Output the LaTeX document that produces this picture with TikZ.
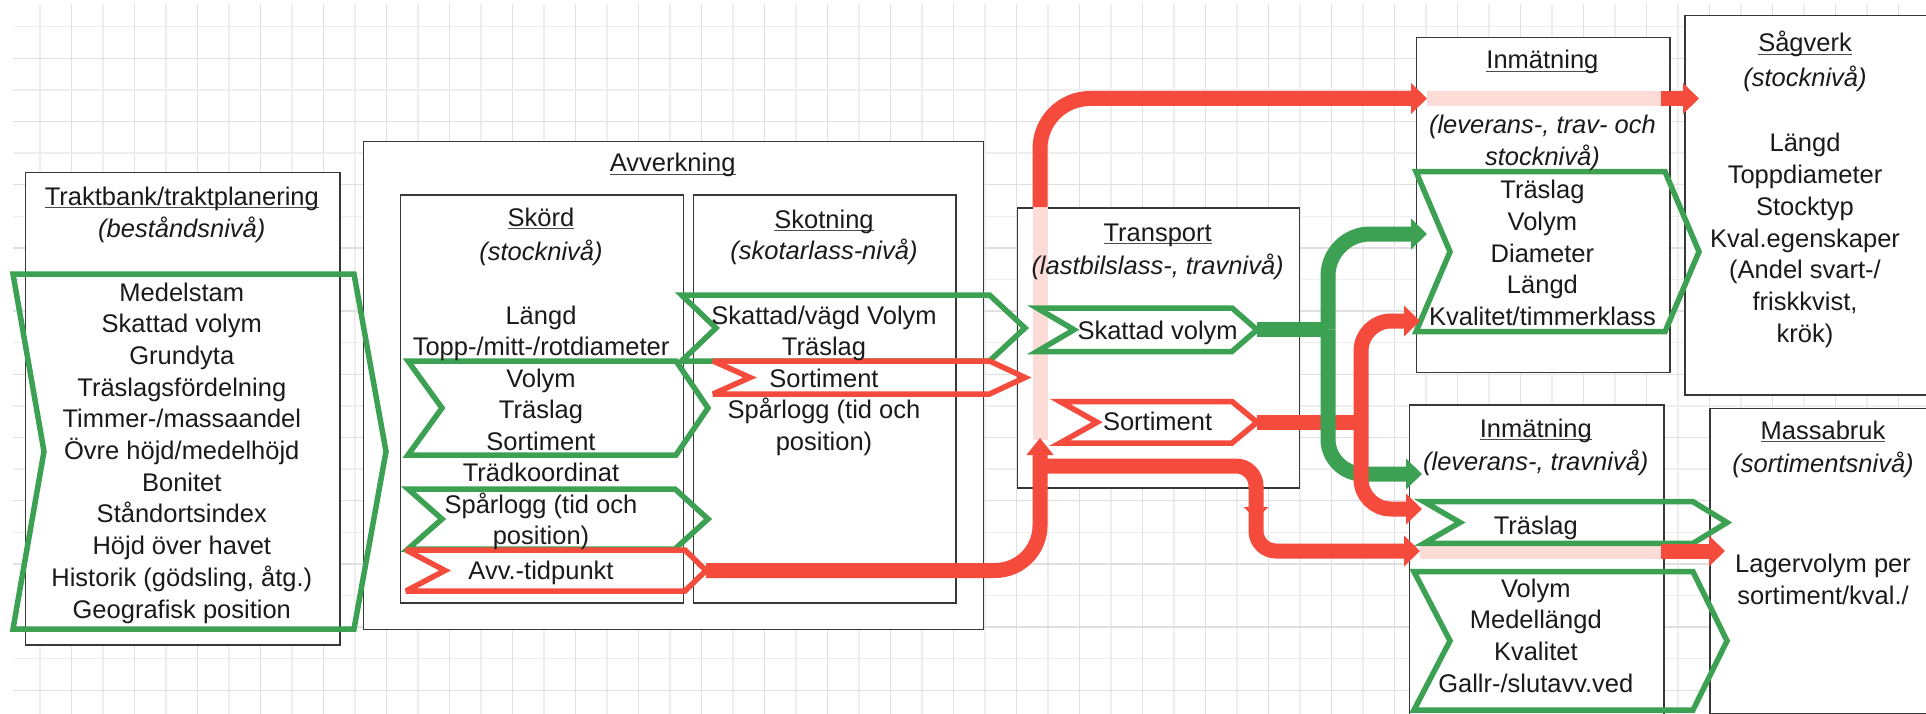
\documentclass[tikz,border=0pt]{standalone}
\usepackage{fontspec}
\setmainfont{Liberation Sans}
\usetikzlibrary{arrows.meta}

\definecolor{flowgreen}{HTML}{3DA153}
\definecolor{flowred}{HTML}{F44B3C}
\definecolor{flowpale}{HTML}{FDDCD8}
\definecolor{gridminor}{HTML}{EEEEEE}
\definecolor{gridmajor}{HTML}{E0E0E0}
\definecolor{ink}{HTML}{1A1A1A}

% underlined stage title, rule just below the baseline
\newsavebox\ttlbox
\newcommand{\utitle}[1]{\sbox\ttlbox{#1}\rlap{\textcolor{black!70}{\rule[-3.2pt]{\wd\ttlbox}{1.6pt}}}\usebox\ttlbox}
% chevron outline: style, left x, notch x, body right x, tip x, top y, bottom y
\newcommand{\flowchev}[7]{\draw[#1] (#2,#6) -- (#4,#6) -- (#5,{(#6+#7)/2}) -- (#4,#7) -- (#2,#7) -- (#3,{(#6+#7)/2}) -- cycle;}

\begin{document}
\begin{tikzpicture}[x=1pt,y=-1pt,
  every node/.style={font=\fontsize{25.5}{31.6}\selectfont, text=ink, inner sep=0pt},
  txt/.style={anchor=base},
  stage/.style={draw=black!78, line width=1.5pt, fill=white, anchor=north west},
  chevg/.style={draw=flowgreen, line width=5.5pt, miter limit=4},
  chevr/.style={draw=flowred, line width=5.5pt, miter limit=4},
  flowg/.style={draw=flowgreen, line width=15pt},
  flowr/.style={draw=flowred, line width=15pt},
  flowp/.style={draw=flowpale, line width=15pt},
  headbig/.style={-{Triangle[length=16pt,width=30pt]}},
  headsmall/.style={-{Triangle[length=17pt,width=26pt]}},
]
\useasboundingbox (0,0) rectangle (1926,714);
\fill[white] (0,0) rectangle (1926,714);

% background grid
\begin{scope}
  \clip (13,4) rectangle (1926,714);
  \foreach \i in {1,...,61} {
    \ifodd\i \def\gc{gridminor}\else\def\gc{gridmajor}\fi
    \draw[\gc, line width=1.3pt] ({8.5+31.5*\i},4) -- ({8.5+31.5*\i},714);
  }
  \foreach \j in {1,...,23} {
    \ifodd\j \def\gc{gridminor}\else\def\gc{gridmajor}\fi
    \draw[\gc, line width=1.3pt] (13,{-4.9+31.6*\j}) -- (1926,{-4.9+31.6*\j});
  }
\end{scope}

% stage boxes
\node[stage, minimum width=314.7pt, minimum height=472pt] (trakt) at (24.6,172) {};
\node[stage, minimum width=619.8pt, minimum height=487.5pt] (avv) at (362.7,141) {};
\node[stage, minimum width=283.2pt, minimum height=407.5pt] (skord) at (399.5,194.5) {};
\node[stage, minimum width=262.3pt, minimum height=407.5pt] (skot) at (692.7,194.5) {};
\node[stage, minimum width=281.8pt, minimum height=280pt] (transp) at (1016.7,207) {};
\node[stage, minimum width=253.2pt, minimum height=335pt] (inmA) at (1415.8,36.7) {};
\node[stage, minimum width=260pt, minimum height=379.2pt] (sag) at (1684.4,14.8) {};
\node[stage, minimum width=254.4pt, minimum height=330pt] (inmB) at (1408.6,404) {};
\node[stage, minimum width=240pt, minimum height=305pt] (massa) at (1709,407.6) {};

% connector end points
\coordinate (avvtip) at (706,570.5);
\coordinate (trin) at (1040,438);
\coordinate (trsplit) at (1040,466);
\coordinate (trtop) at (1040,207);
\coordinate (brk) at (1256,508);
\coordinate (inmAtop) at (1427,98.5);
\coordinate (inmAout) at (1661,98.5);
\coordinate (sagin) at (1699,98.5);
\coordinate (svtip) at (1257,329.5);
\coordinate (gj) at (1328,329.5);
\coordinate (inmAg) at (1427,234);
\coordinate (inmBg) at (1422,474);
\coordinate (sotip) at (1257,422);
\coordinate (rj) at (1361,422);
\coordinate (inmAr) at (1420,321);
\coordinate (inmBr) at (1422,509);
\coordinate (inmBin) at (1420,551);
\coordinate (inmBout) at (1661,551);
\coordinate (massin) at (1725,551);

% pass-through segments
\draw[flowp] (1040,440) -- (trtop);
\draw[flowp] (inmAtop) -- (inmAout);
\draw[flowp] (inmBin) -- (inmBout);

% information chevrons
\flowchev{chevg}{13}{44}{354}{386}{274}{629}
\flowchev{chevg}{408}{442}{676}{708}{361}{455}
\flowchev{chevg}{408}{442}{675}{708}{489}{549}
\flowchev{chevr}{406}{445}{685}{706}{550}{591}
\flowchev{chevg}{681.5}{716}{989.5}{1025}{295}{361}
\flowchev{chevr}{713}{750}{989.5}{1025}{361}{394}
\flowchev{chevg}{1037}{1074}{1232}{1257}{308}{351.5}
\flowchev{chevr}{1060}{1097}{1232}{1257}{401.5}{443}
\flowchev{chevg}{1416}{1450}{1665}{1699}{171.7}{331.7}
\flowchev{chevg}{1424}{1460}{1693}{1727}{501.7}{543.3}
\flowchev{chevg}{1414}{1450}{1693}{1727}{571.7}{710}

% flows
\draw[flowr, headsmall, rounded corners=45pt] (avvtip) -| (trin);
\draw[flowr, headbig, rounded corners=20pt] (trsplit) -| (brk) |- (inmBin);
\fill[flowred] (1243.5,507) -- (1268.5,507) -- (1256,519) -- cycle;
\draw[flowr, headbig, rounded corners=50pt] (trtop) |- (inmAtop);
\draw[flowr, headbig] (inmAout) -- (sagin);
\draw[flowr, headbig] (inmBout) -- (massin);
\draw[flowr] (sotip) -- (rj);
\draw[flowg] (svtip) -- (gj);
\draw[flowg, headbig, rounded corners=42pt] (gj) |- (inmAg);
\draw[flowg, headbig, rounded corners=35pt] (gj) |- (inmBg);
\draw[flowr, headbig, rounded corners=30pt] (rj) |- (inmAr);
\draw[flowr, headbig, rounded corners=30pt] (rj) |- (inmBr);

% Traktbank/traktplanering
\node[txt] (traktT) at (181.8,205) {\utitle{Traktbank/traktplanering}};
\node[txt] (traktS) at (181.8,237) {\itshape (beståndsnivå)};
\foreach \t [count=\i from 0] in {{Medelstam},{Skattad volym},{Grundyta},{Träslagsfördelning},{Timmer-/massaandel},{Övre höjd/medelhöjd},{Bonitet},{Ståndortsindex},{Höjd över havet},{Historik (gödsling, åtg.)},{Geografisk position}}
  \node[txt] (trakt\i) at (181.8,{301+31.7*\i}) {\t};

% Avverkning
\node[txt] (avvT) at (672.7,172) {\utitle{Avverkning}};
\node[txt] (skordT) at (541,226) {\utitle{Skörd}};
\node[txt] (skordS) at (541,260.7) {\itshape (stocknivå)};
\foreach \t [count=\i from 0] in {{Längd},{Topp-/mitt-/rotdiameter},{Volym},{Träslag},{Sortiment},{Trädkoordinat},{Spårlogg (tid och},{position)}}
  \node[txt] (skord\i) at (541,{324+31.5*\i}) {\t};
\node[txt] (skordAvv) at (541,579) {Avv.-tidpunkt};

\node[txt] (skotT) at (824,228) {\utitle{Skotning}};
\node[txt] (skotS) at (824,259.5) {\itshape (skotarlass-nivå)};
\node[txt] (skot0) at (824,324) {Skattad/vägd Volym};
\node[txt] (skot1) at (824,355.7) {Träslag};
\node[txt] (skot2) at (824,387) {Sortiment};
\node[txt] (skot3) at (824,418.6) {Spårlogg (tid och};
\node[txt] (skot4) at (824,450) {position)};

% Transport
\node[txt] (trT) at (1157.6,241) {\utitle{Transport}};
\node[txt] (trS) at (1157.6,274) {\itshape (lastbilslass-, travnivå)};
\node[txt] (trVol) at (1157.6,339) {Skattad volym};
\node[txt] (trSort) at (1157.6,430) {Sortiment};

% Inmätning (timber)
\node[txt] (inmAT) at (1542.4,69) {\utitle{Inmätning}};
\node[txt] (inmAS1) at (1542.4,134) {\itshape (leverans-, trav- och};
\node[txt] (inmAS2) at (1542.4,166) {\itshape stocknivå)};
\foreach \t [count=\i from 0] in {{Träslag},{Volym},{Diameter},{Längd},{Kvalitet/timmerklass}}
  \node[txt] (inmA\i) at (1542.4,{199+31.5*\i}) {\t};

% Sågverk
\node[txt] (sagT) at (1805,52) {\utitle{Sågverk}};
\node[txt] (sagS) at (1805,87) {\itshape (stocknivå)};
\foreach \t [count=\i from 0] in {{Längd},{Toppdiameter},{Stocktyp},{Kval.egenskaper},{(Andel svart-/},{friskkvist,},{krök)}}
  \node[txt] (sag\i) at (1805,{152+31.7*\i}) {\t};

% Inmätning (pulpwood)
\node[txt] (inmBT) at (1535.8,437) {\utitle{Inmätning}};
\node[txt] (inmBS) at (1535.8,470.7) {\itshape (leverans-, travnivå)};
\node[txt] (inmBtr) at (1535.8,534) {Träslag};
\foreach \t [count=\i from 0] in {{Volym},{Medellängd},{Kvalitet},{Gallr-/slutavv.ved}}
  \node[txt] (inmB\i) at (1535.8,{597+31.8*\i}) {\t};

% Massabruk
\node[txt] (massT) at (1823,439) {\utitle{Massabruk}};
\node[txt] (massS) at (1823,472) {\itshape (sortimentsnivå)};
\node[txt] (mass0) at (1823,572) {Lagervolym per};
\node[txt] (mass1) at (1823,604) {sortiment/kval./};
\end{tikzpicture}
\end{document}
